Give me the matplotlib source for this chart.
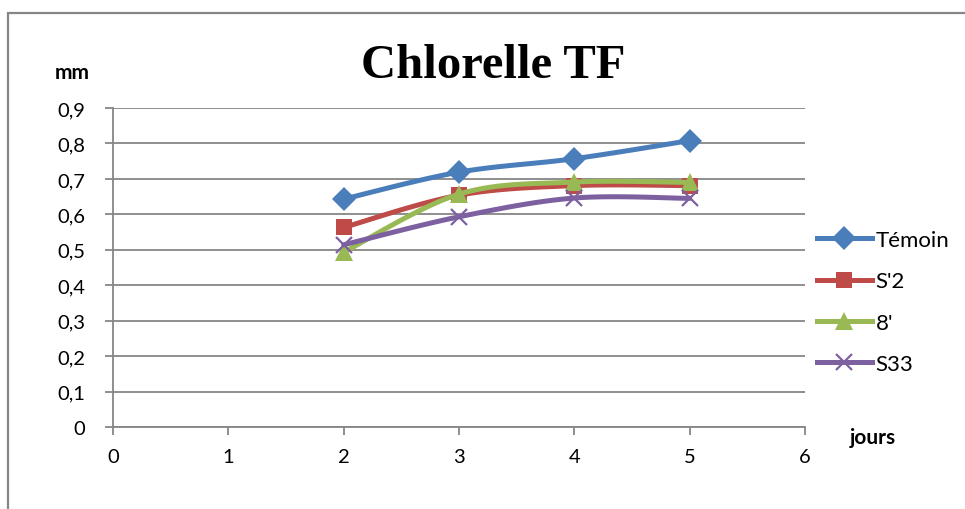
import matplotlib.pyplot as plt
import numpy as np
from matplotlib.patches import Rectangle
from matplotlib.ticker import FuncFormatter

# growth measurements (mm) per day
jours = [2, 3, 4, 5]
temoin = [0.643, 0.719, 0.757, 0.808]
s2 = [0.563, 0.654, 0.681, 0.681]
huit = [0.493, 0.657, 0.691, 0.690]
s33 = [0.514, 0.593, 0.646, 0.645]

series_names = ["Témoin", "S'2", "8'", "S33"]
x_ticks = [0, 1, 2, 3, 4, 5, 6]
y_ticks = [0, 0.1, 0.2, 0.3, 0.4, 0.5, 0.6, 0.7, 0.8, 0.9]

colors = ["#4a7ebb", "#be4b48", "#98b954", "#7d60a0"]
markers = ["D", "s", "^", "x"]
msizes = [12, 12, 13, 12]


def smooth(x, y, n=30):
    # cubic bezier segments with catmull-rom style control points
    x = np.asarray(x, float)
    y = np.asarray(y, float)
    px = np.concatenate([[x[0]], x, [x[-1]]])
    py = np.concatenate([[y[0]], y, [y[-1]]])
    xs, ys = [], []
    t = np.linspace(0, 1, n)
    for i in range(len(x) - 1):
        p0 = np.array([px[i + 1], py[i + 1]])
        p3 = np.array([px[i + 2], py[i + 2]])
        p1 = p0 + (np.array([px[i + 2], py[i + 2]]) - np.array([px[i], py[i]])) / 6
        p2 = p3 - (np.array([px[i + 3], py[i + 3]]) - np.array([px[i + 1], py[i + 1]])) / 6
        b = ((1 - t) ** 3)[:, None] * p0 + (3 * (1 - t) ** 2 * t)[:, None] * p1 \
            + (3 * (1 - t) * t ** 2)[:, None] * p2 + (t ** 3)[:, None] * p3
        xs.extend(b[:, 0])
        ys.extend(b[:, 1])
    return xs, ys


plt.rcParams['font.family'] = ['Lato', 'DejaVu Sans']

fig = plt.figure(figsize=(9.65, 5.1), dpi=100)
ax = fig.add_axes([113 / 965, 1 - 428 / 510, 692 / 965, 319 / 510])

grid_col = "#868686"
for i, (vals, name) in enumerate(zip([temoin, s2, huit, s33], series_names)):
    sx, sy = smooth(jours, vals)
    ax.plot(sx, sy, color=colors[i], lw=3.6, solid_capstyle='round', zorder=3 + i)
    mew = 1.6 if markers[i] == "x" else 0
    ax.plot(jours, vals, linestyle='none', marker=markers[i], ms=msizes[i],
            color=colors[i], mew=mew, zorder=3 + i)
    ax.plot([], [], color=colors[i], lw=3.6, marker=markers[i], ms=msizes[i],
            mew=mew, label=name)

ax.set_xlim(0, 6)
ax.set_ylim(0, 0.9)
ax.set_xticks(x_ticks)
ax.set_yticks(y_ticks)
ax.yaxis.set_major_formatter(FuncFormatter(lambda v, p: f"{v:g}".replace(".", ",")))
ax.grid(axis='y', color=grid_col, lw=1.3)
ax.set_axisbelow(True)
for side in ["top", "right"]:
    ax.spines[side].set_visible(False)
for side in ["left", "bottom"]:
    ax.spines[side].set_color(grid_col)
    ax.spines[side].set_linewidth(1.3)
ax.tick_params(axis='both', color=grid_col, width=1.3, length=5.8, labelsize=14.5)
ax.tick_params(axis='y', pad=14)
ax.tick_params(axis='x', pad=9)

ax.legend(loc='upper left', bbox_to_anchor=(1.004, 0.645), frameon=False, fontsize=16,
          handlelength=2.5, handletextpad=0.15, labelspacing=0.96, borderaxespad=0)

fig.text(493 / 965, 1 - 66 / 510, "Chlorelle TF", ha='center', va='center',
         family='Liberation Serif', fontweight='bold', fontsize=35)
fig.text(72 / 965, 1 - 73 / 510, "mm", ha='center', va='center', fontweight='bold', fontsize=15)
fig.text(873 / 965, 1 - 438 / 510, "jours", ha='center', va='center', fontweight='bold', fontsize=15)

# outer chart border
fig.patches.append(Rectangle((8 / 965, -0.1), 1.1, 1 - 14 / 510 + 0.1, transform=fig.transFigure,
                             fill=False, edgecolor=grid_col, lw=1.6))

fig.savefig("out.png", dpi=100)
